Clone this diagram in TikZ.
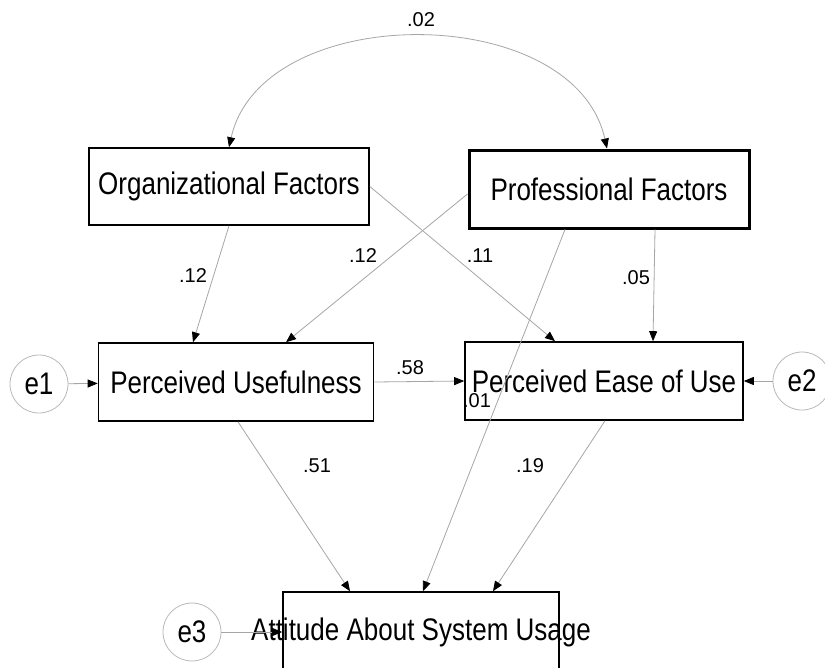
\documentclass[tikz,border=0pt]{standalone}
\usepackage{graphicx}
\usepackage{fontspec}
\setmainfont{Liberation Sans}
\usetikzlibrary{arrows.meta}
\newcommand\tallt[1]{\scalebox{1}[1.2]{#1}}
\begin{document}
\begin{tikzpicture}[x=1pt,y=-1pt,
  box/.style={draw=black,line width=1.6pt,inner sep=0pt,font=\fontsize{26}{30}\selectfont},
  err/.style={draw=gray!55,line width=0.8pt,circle,minimum size=58pt,inner sep=0pt,font=\fontsize{26}{30}\selectfont},
  tipb/.tip={Triangle[length=10pt,width=8pt,color=black]},
  conn/.style={draw=gray!70,line width=0.8pt,-tipb},
  lbl/.style={font=\fontsize{20}{24}\selectfont}]
\fill[white] (0,0) rectangle (825,667);
\useasboundingbox (0,0) rectangle (825,667);
% boxes
\node[box,minimum width=280pt,minimum height=77pt] (org) at (229,186.5) {\tallt{Organizational Factors}};
\node[box,line width=3pt,minimum width=280pt,minimum height=78pt] (prof) at (609,189) {\tallt{Professional Factors}};
\node[box,minimum width=275pt,minimum height=78pt] (pu) at (236,382) {\tallt{Perceived Usefulness}};
\node[box,minimum width=278pt,minimum height=78pt] (peu) at (604,381) {\tallt{Perceived Ease of Use}};
\node[box,minimum width=276pt,minimum height=80pt] (att) at (421,632) {\makebox[0pt]{\tallt{Attitude About System Usage}}};
% error terms
\node[err] (e1) at (39,384) {\tallt{e1}};
\node[err] (e2) at (802,381) {\tallt{e2}};
\node[err] (e3) at (192,632) {\tallt{e3}};
% covariance
\draw[draw=gray!70,line width=0.8pt,tipb-tipb] (org.north) .. controls (262,0) and (574,0) .. ([xshift=-2pt]prof.north);
\node[lbl] (l02) at (421,20) {.02};
% paths
\draw[conn] (org.south) -- ([xshift=-43pt]pu.north);
\draw[conn] ([yshift=-5pt]prof.west) -- ([xshift=50pt]pu.north);
\draw[conn] (org.east) -- ([xshift=-49pt]peu.north);
\draw[conn] ([xshift=-44pt]prof.south) -- ([xshift=2pt]att.north);
\draw[conn] ([xshift=46pt]prof.south) -- ([xshift=49pt]peu.north);
\draw[conn] (pu.east) -- (peu.west);
\draw[conn] ([xshift=2pt]pu.south) -- ([xshift=-71pt]att.north);
\draw[conn] ([xshift=1pt]peu.south) -- ([xshift=72pt]att.north);
\draw[conn] (e1) -- (pu);
\draw[conn] (e2) -- (peu);
\draw[conn] (e3) -- (att);
% labels
\node[lbl] (l12a) at (193,276) {.12};
\node[lbl] (l12b) at (363,256) {.12};
\node[lbl] (l11) at (480,256) {.11};
\node[lbl] (l05) at (636,278) {.05};
\node[lbl] (l58) at (410,368) {.58};
\node[lbl] (l01) at (477,401) {.01};
\node[lbl] (l51) at (317,466) {.51};
\node[lbl] (l19) at (530,466) {.19};
\end{tikzpicture}
\end{document}
